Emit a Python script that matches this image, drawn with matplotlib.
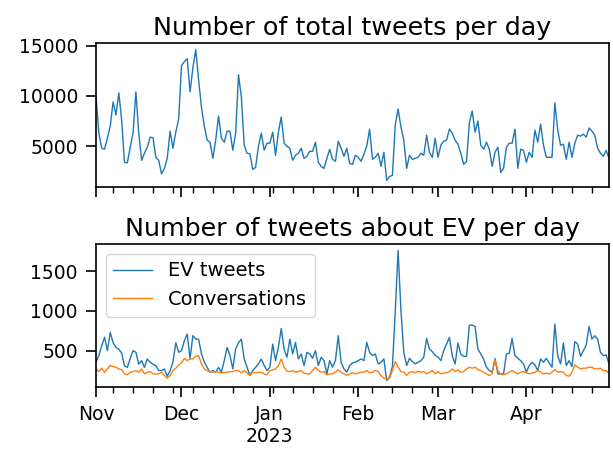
import matplotlib
matplotlib.use('Agg')
import matplotlib.pyplot as plt
import matplotlib.dates as mdates
import numpy as np
import pandas as pd

# Daily counts, 2022-11-01 .. 2023-04-30
dates = pd.date_range('2022-11-01', '2023-04-30', freq='D')

total_tweets = [
    10000, 6300, 4800, 4700, 5800, 7000, 9400, 8100, 10300, 7600,
    3400, 3350, 4900, 6300, 10400, 6300, 3600, 4300, 4900, 5900,
    5850, 3900, 3600, 2250, 2800, 3800, 6500, 4800, 6400, 7700,
    13000, 13400, 13700, 10400, 12800, 14600, 11600, 8900, 7000, 5600,
    5400, 3800, 5600, 8000, 5800, 5400, 6500, 6500, 4600, 6300,
    12100, 9900, 5100, 4300, 4250, 2700, 2900, 5000, 6300, 4600,
    5300, 5300, 6400, 4100, 6400, 7900, 5300, 5000, 4800, 3600,
    4100, 4300, 4800, 3800, 4000, 4500, 4500, 5400, 3400, 3000,
    2800, 3800, 4700, 3700, 3500, 5500, 4800, 4000, 4800, 3300,
    3200, 4100, 3900, 3500, 4200, 5000, 6700, 3700, 3900, 4300,
    3000, 4400, 1600, 2000, 2100, 7100, 8700, 6900, 5600, 2800,
    4100, 3700, 3800, 3900, 4300, 4100, 6100, 4400, 3900, 5800,
    3900, 5100, 5500, 5600, 6700, 6300, 5600, 5200, 4300, 3200,
    3500, 7300, 8500, 6400, 7500, 5100, 4700, 5400, 4700, 3000,
    4400, 4900, 2400, 2800, 4900, 5300, 5300, 6700, 2800, 4700,
    4600, 3400, 4400, 3900, 6600, 5400, 7200, 5100, 3900, 3900,
    3900, 9300, 6600, 5100, 5200, 3700, 5400, 3900, 5300, 6100,
    6000, 6200, 5900, 6800, 6500, 6100, 4800, 4300, 4000, 4600,
    3800,
]

ev_tweets = [
    355, 440, 560, 670, 500, 730, 600, 540, 520, 470,
    310, 290, 400, 500, 480, 330, 375, 290, 395, 355,
    330, 310, 250, 250, 270, 180, 250, 355, 600, 480,
    500, 625, 710, 400, 690, 645, 645, 460, 355, 290,
    230, 250, 230, 290, 230, 375, 540, 440, 270, 520,
    600, 645, 395, 290, 190, 250, 290, 335, 395, 315,
    250, 290, 583, 375, 542, 779, 521, 417, 646, 458,
    604, 396, 458, 313, 479, 458, 404, 500, 313, 417,
    375, 208, 375, 292, 375, 688, 354, 271, 229, 313,
    346, 354, 375, 396, 375, 604, 479, 438, 458, 333,
    354, 396, 125, 167, 300, 1000, 1760, 1000, 480, 313,
    404, 363, 333, 354, 375, 417, 654, 521, 488, 440,
    420, 375, 500, 583, 667, 438, 333, 596, 458, 429,
    429, 821, 821, 804, 521, 458, 396, 292, 250, 229,
    400, 208, 208, 208, 458, 467, 654, 438, 404, 375,
    333, 229, 313, 354, 321, 250, 396, 354, 404, 346,
    292, 833, 438, 333, 596, 313, 375, 300, 613, 583,
    429, 500, 571, 804, 646, 688, 646, 479, 438, 446,
    333,
]

conversations = [
    270, 237, 280, 229, 270, 313, 300, 292, 270, 262,
    208, 196, 229, 237, 250, 229, 270, 208, 229, 237,
    208, 208, 208, 229, 188, 154, 188, 250, 280, 320,
    346, 404, 375, 396, 396, 429, 438, 333, 271, 250,
    237, 229, 237, 229, 221, 225, 229, 237, 237, 250,
    250, 221, 250, 220, 188, 229, 221, 229, 229, 208,
    196, 250, 258, 271, 313, 396, 292, 242, 237, 250,
    229, 237, 250, 217, 208, 208, 250, 292, 250, 229,
    237, 196, 208, 208, 229, 258, 229, 208, 188, 208,
    221, 208, 217, 229, 229, 250, 221, 229, 250, 237,
    188, 154, 146, 154, 250, 363, 292, 237, 229, 188,
    229, 237, 221, 242, 229, 237, 208, 229, 250, 208,
    237, 208, 217, 221, 237, 271, 237, 258, 229, 237,
    271, 292, 280, 292, 262, 250, 229, 208, 188, 208,
    388, 250, 208, 196, 208, 229, 250, 229, 208, 229,
    237, 221, 208, 217, 229, 250, 229, 208, 217, 208,
    229, 262, 229, 237, 229, 188, 179, 229, 321, 292,
    271, 280, 280, 292, 292, 271, 271, 280, 250, 250,
    208,
]

BLUE = '#1f77b4'
ORANGE = '#ff7f0e'

plt.rcParams['font.family'] = 'DejaVu Sans'

fig = plt.figure(figsize=(6.13, 4.49), dpi=100)
ax1 = fig.add_axes([0.1566, 0.5835, 0.8369, 0.3207])
ax2 = fig.add_axes([0.1566, 0.1381, 0.8369, 0.3185], sharex=ax1)

ax1.plot(dates, total_tweets, color=BLUE, linewidth=1.0)
ax2.plot(dates, ev_tweets, color=BLUE, linewidth=1.0, label='EV tweets')
ax2.plot(dates, conversations, color=ORANGE, linewidth=1.0, label='Conversations')

ax1.set_title('Number of total tweets per day', fontsize=18.3, pad=6)
ax2.set_title('Number of tweets about EV per day', fontsize=18.3, pad=6)

ax1.set_yticks([5000, 10000, 15000])
ax2.set_yticks([500, 1000, 1500])

# month labels like pandas: year only under January
def month_fmt(x, pos=None):
    d = mdates.num2date(x)
    if d.month == 1:
        return d.strftime('%b') + '\n' + d.strftime('%Y')
    return d.strftime('%b')

for ax in (ax1, ax2):
    ax.xaxis.set_major_locator(mdates.MonthLocator())
    ax.xaxis.set_minor_locator(mdates.WeekdayLocator(byweekday=mdates.MO))
    ax.xaxis.set_major_formatter(plt.FuncFormatter(month_fmt))
    ax.xaxis.set_minor_formatter(plt.NullFormatter())
    ax.tick_params(which='major', length=7, width=1.2, labelsize=13.5, pad=6)
    ax.tick_params(which='minor', length=4.5, width=1.0)
    for sp in ax.spines.values():
        sp.set_linewidth(1.2)
    ax.set_xlim(dates[0], dates[-1])

ax1.tick_params(axis='x', which='both', labelbottom=False)
for lbl in ax2.get_xticklabels():
    lbl.set_ha('center')

ax2.legend(loc='upper left', fontsize=14)

fig.savefig('out.png', dpi=100)
